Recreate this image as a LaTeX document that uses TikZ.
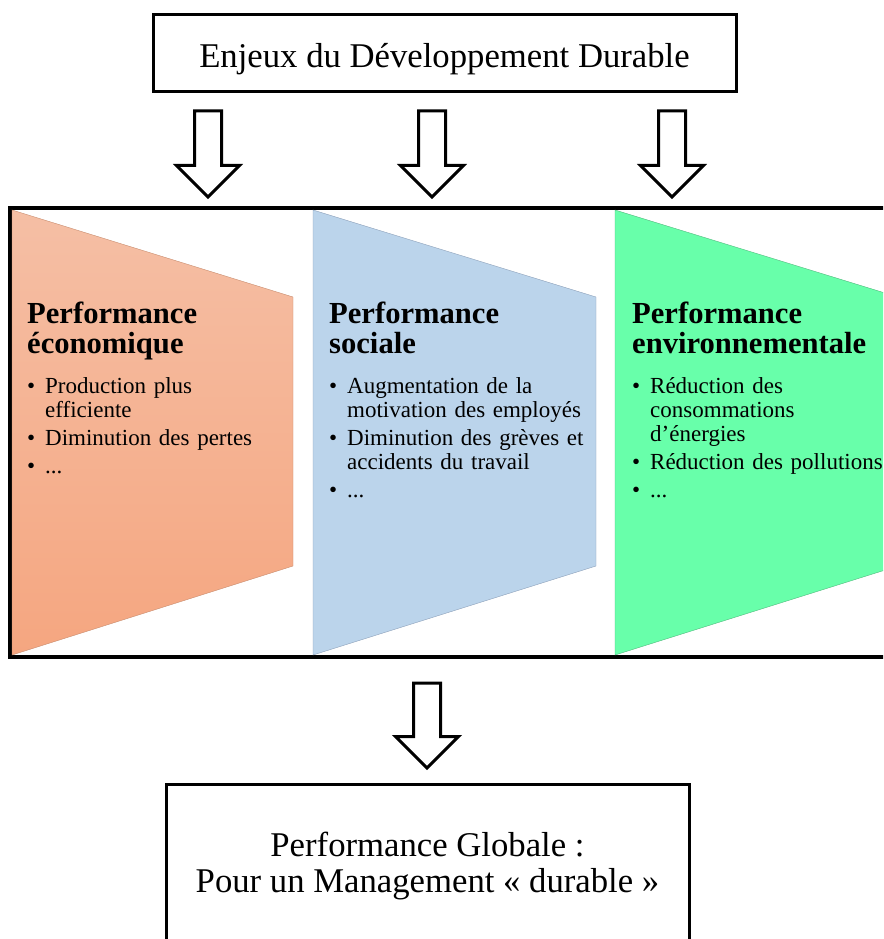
\documentclass[tikz,border=0pt]{standalone}
\usepackage{fontspec}
\setmainfont{Liberation Serif}
\usepackage{tikz}
\usetikzlibrary{positioning,shapes.arrows}

\definecolor{ecoTop}{RGB}{245,191,165}
\definecolor{ecoBot}{RGB}{245,166,128}
\definecolor{ecoLine}{RGB}{200,140,110}
\definecolor{socFill}{RGB}{187,212,235}
\definecolor{socLine}{RGB}{140,160,185}
\definecolor{envFill}{RGB}{104,255,170}
\definecolor{envLine}{RGB}{80,185,125}

\tikzstyle{cadre} = [draw, line width=3pt, rectangle, inner sep=0pt,
    font=\fontsize{34.7}{36}\selectfont]
\tikzstyle{fleche} = [draw, fill=white, line width=3pt, single arrow,
    rotate=-90, anchor=tail, minimum height=86pt, minimum width=60pt,
    single arrow head extend=18pt, inner xsep=0pt, inner ysep=12pt]
\tikzstyle{pilier} = [anchor=north west, inner sep=0pt, text width=270pt,
    align=left, font=\fontsize{23}{24}\selectfont]

\newcommand{\titrepilier}[2]{{\fontsize{30.6}{30}\selectfont\bfseries #1\\#2\par}\vspace{12pt}}
\newcommand{\puce}{\par\vspace{4pt}\hangindent=18pt\hangafter=1\noindent\makebox[18pt][l]{\textbullet}}

\begin{document}
\begin{tikzpicture}[x=1pt, y=-1pt]
	  \useasboundingbox (0,0) rectangle (883,939);
	  \clip (0,0) rectangle (883,939);
	  % bandeau des trois piliers
	  \draw [line width=4pt] (890,208) -- (10,208) -- (10,657) -- (890,657);
	  \path [draw=ecoLine, top color=ecoTop, bottom color=ecoBot]
	    (12,210) -- (293,297) -- (293,566) -- (12,655) -- cycle;
	  \path [draw=socLine, fill=socFill]
	    (313,210) -- (596,297) -- (596,566) -- (313,655) -- cycle;
	  \path [draw=envLine, fill=envFill]
	    (615,210) -- (898,297) -- (898,566) -- (615,655) -- cycle;
	  \node [pilier] (eco) at (27,302) {\titrepilier{Performance}{économique}%
	    \puce Production plus\newline efficiente
	    \puce Diminution des pertes
	    \puce ...};
	  \node [pilier] (soc) at (329,302) {\titrepilier{Performance}{sociale}%
	    \puce Augmentation de la\newline motivation des employés
	    \puce Diminution des grèves et\newline accidents du travail
	    \puce ...};
	  \node [pilier] (env) at (632,302) {\titrepilier{Performance}{environnementale}%
	    \puce Réduction des\newline consommations\newline d’énergies
	    \puce Réduction des pollutions
	    \puce ...};
	  % haut et bas
	  \node [cadre, minimum width=583pt, minimum height=77pt,
	    text height=29pt, text depth=0pt] (enjeux) at (444.5,53.5)
	    {Enjeux du Développement Durable};
	  \node [fleche] (f1) at (208,109.5) {};
	  \node [fleche] (f2) at (432,109.5) {};
	  \node [fleche] (f3) at (672,109.5) {};
	  \node [fleche, minimum height=85pt] (fbas) at (427,681.5) {};
	  \node [cadre, anchor=north, minimum width=523pt, minimum height=164pt,
	    align=center] (global) at (427.5,783)
	    {Performance Globale :\\Pour un Management « durable »};
	\end{tikzpicture}
\end{document}
